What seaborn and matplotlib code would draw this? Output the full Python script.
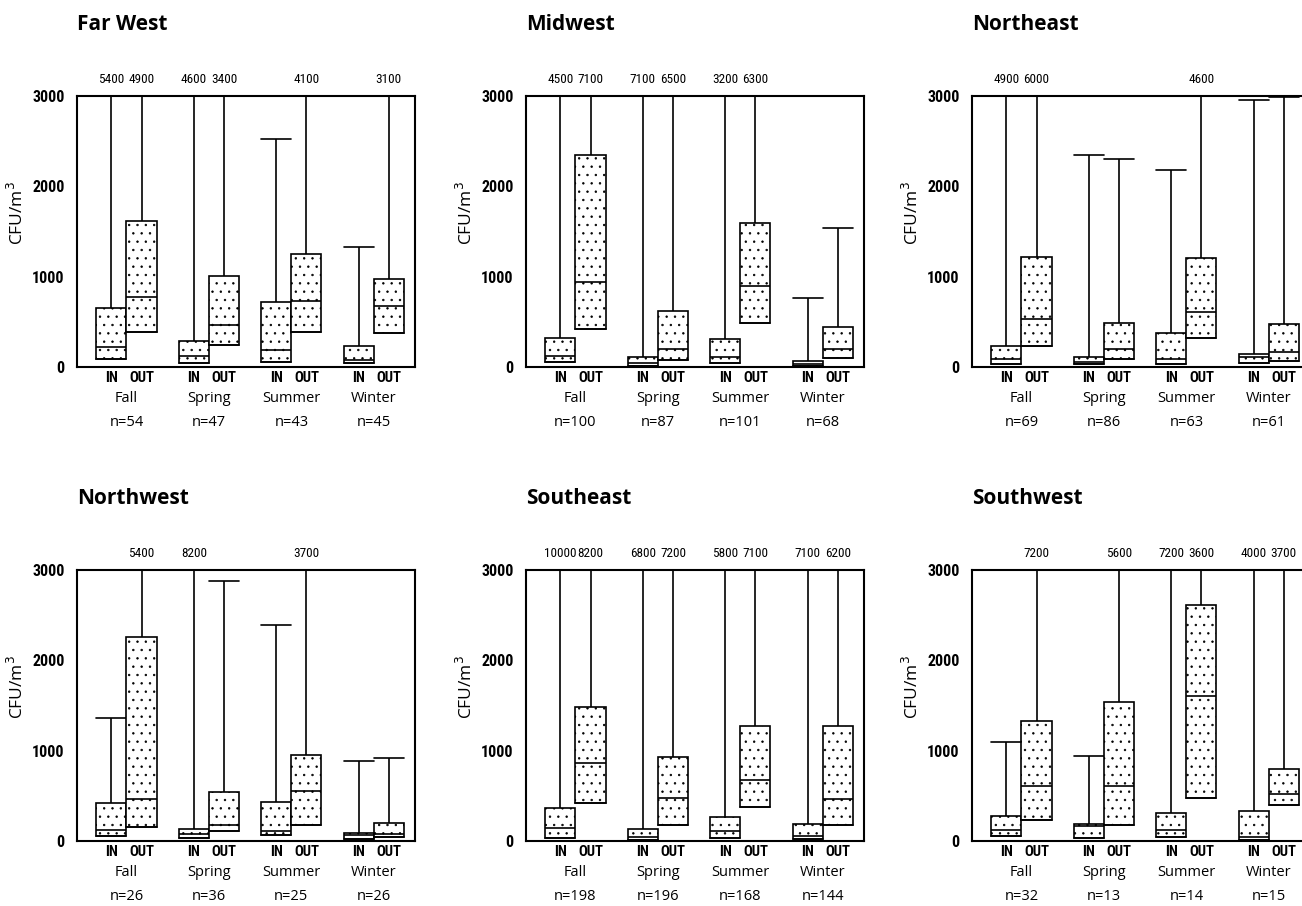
import pandas as pd
import seaborn as sns
import matplotlib.pyplot as plt
from matplotlib import font_manager

seasons = ["Fall", "Spring", "Summer", "Winter"]
locations = ["IN", "OUT"]

# (q1, median, q3, max) per season
far_west_in = [(85, 225, 649, 5400), (48, 122, 287, 4600), (59, 188, 715, 2520), (48, 77, 232, 1323)]
far_west_out = [(391, 778, 1618, 4900), (243, 464, 1006, 3400), (383, 730, 1246, 4100), (372, 675, 977, 3100)]
far_west_n = [54, 47, 43, 45]

midwest_in = [(59, 125, 324, 4500), (15, 41, 114, 7100), (48, 114, 310, 3200), (15, 29, 66, 767)]
midwest_out = [(424, 944, 2352, 7100), (81, 199, 623, 6500), (483, 899, 1596, 6300), (96, 195, 439, 1537)]
midwest_n = [100, 87, 101, 68]

northeast_in = [(33, 85, 235, 4900), (33, 59, 114, 2349), (33, 88, 379, 2176), (40, 114, 140, 2960)]
northeast_out = [(232, 526, 1217, 6000), (85, 199, 482, 2298), (324, 607, 1210, 4600), (70, 169, 474, 2985)]
northeast_n = [69, 86, 63, 61]

northwest_in = [(51, 118, 426, 1366), (33, 81, 129, 8200), (66, 106, 433, 2391), (26, 62, 92, 885)]
northwest_out = [(151, 466, 2258, 5400), (114, 173, 540, 2879), (180, 555, 947, 3700), (44, 81, 198, 922)]
northwest_n = [26, 36, 25, 26]

southeast_in = [(37, 144, 361, 10000), (15, 44, 136, 6800), (37, 111, 262, 5800), (26, 52, 184, 7100)]
southeast_out = [(420, 862, 1482, 8200), (181, 472, 925, 7200), (376, 671, 1268, 7100), (181, 468, 1268, 6200)]
southeast_n = [198, 196, 168, 144]

southwest_in = [(52, 118, 280, 1098), (37, 162, 192, 944), (41, 118, 306, 7200), (15, 44, 335, 4000)]
southwest_out = [(229, 604, 1323, 7200), (181, 612, 1537, 5600), (472, 1607, 2610, 3600), (402, 520, 800, 3700)]
southwest_n = [32, 13, 14, 15]

regions = [
    ("Far West", far_west_in, far_west_out, far_west_n),
    ("Midwest", midwest_in, midwest_out, midwest_n),
    ("Northeast", northeast_in, northeast_out, northeast_n),
    ("Northwest", northwest_in, northwest_out, northwest_n),
    ("Southeast", southeast_in, southeast_out, southeast_n),
    ("Southwest", southwest_in, southwest_out, southwest_n),
]

sns.set_style("white")
installed = {f.name for f in font_manager.fontManager.ttflist}
narrow = [f for f in ["Liberation Sans Narrow", "Roboto Condensed", "DejaVu Sans"] if f in installed] or ["DejaVu Sans"]
narrow = narrow[:1] + ["DejaVu Sans"]
plt.rcParams["font.family"] = ["Open Sans", "DejaVu Sans"]
plt.rcParams["hatch.linewidth"] = 0.5
for key in ("text.color", "axes.labelcolor", "xtick.color", "ytick.color"):
    plt.rcParams[key] = "black"

W, H = 1302, 906
fig = plt.figure(figsize=(W / 100, H / 100), dpi=100)
lefts = [77, 526, 972]
tops = [96, 570]
aw, ah = 338, 271

BOX_W = 0.73
off = BOX_W / 4

for i, (name, d_in, d_out, n) in enumerate(regions):
    row, col = divmod(i, 3)
    ax = fig.add_axes([lefts[col] / W, 1 - (tops[row] + ah) / H, aw / W, ah / H])

    rows = []
    for loc, stats in (("IN", d_in), ("OUT", d_out)):
        for s, (q1, med, q3, mx) in zip(seasons, stats):
            # five points whose quartiles are q1, median, q3 and whose max is mx
            for v in (q1, q1, med, q3, mx):
                rows.append({"season": s, "loc": loc, "value": v})
    df = pd.DataFrame(rows)

    sns.boxplot(data=df, x="season", y="value", hue="loc", order=seasons,
                hue_order=locations, palette=["white", "white"], width=BOX_W,
                gap=0, whis=(0, 100), linecolor="black", linewidth=1.2,
                legend=False, ax=ax, capwidths=BOX_W / 2)
    for p in ax.patches:
        p.set_hatch("..")

    ax.set_ylim(0, 3000)
    ax.set_xlim(-0.6, 3.5)
    ax.set_yticks([0, 1000, 2000, 3000])
    ax.set_yticklabels(["0", "1000", "2000", "3000"], family=narrow,
                       fontweight="bold", fontsize=11.5)
    ax.tick_params(axis="y", direction="inout", length=10, width=1.2, pad=4)

    pos, labs = [], []
    for g in range(len(seasons)):
        pos += [g - off, g + off]
        labs += locations
    ax.set_xticks(pos)
    ax.set_xticklabels(labs, family=narrow, fontweight="bold", fontsize=10.5)
    ax.tick_params(axis="x", length=0, pad=3)
    ax.set_xlabel("")
    ax.set_ylabel("CFU/m$^3$", fontsize=12.5)
    ax.yaxis.set_label_coords(-0.148, 0.57)

    for sp in ax.spines.values():
        sp.set_visible(True)
        sp.set_color("black")
        sp.set_linewidth(1.5)

    tr = ax.get_xaxis_transform()
    for g, s in enumerate(seasons):
        ax.text(g, -0.115, s, transform=tr, ha="center", va="center", fontsize=10.5)
        ax.text(g, -0.205, f"n={n[g]}", transform=tr, ha="center", va="center", fontsize=10.5)
        for k, stats in enumerate((d_in, d_out)):
            mx = stats[g][3]
            if mx > 3000:
                ax.text(g + (2 * k - 1) * off, 1.06, f"{mx}", transform=tr,
                        ha="center", va="center", family=narrow, fontsize=9.5)

    ax.text(0, 1.262, name, transform=ax.transAxes, ha="left", va="center",
            fontsize=15, fontweight="bold")

fig.savefig("out.png", dpi=100, facecolor="white")
